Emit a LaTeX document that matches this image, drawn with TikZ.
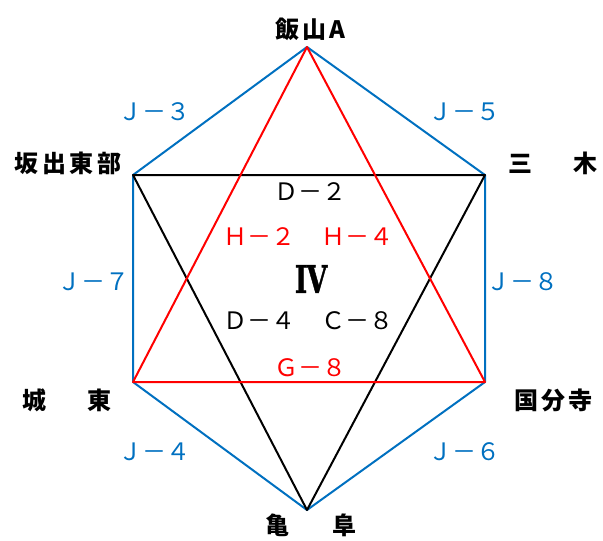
\documentclass[tikz,border=0pt]{standalone}
\usepackage{fontspec}
\usepackage{graphicx}
\newfontfamily\jpfont{Noto Sans CJK JP}
\newfontfamily\numfont{DejaVu Serif}[FakeBold=1.5]
\usetikzlibrary{positioning}

\definecolor{hexblue}{HTML}{0070C0}
\definecolor{trired}{HTML}{FF0000}

\begin{document}
\begin{tikzpicture}[
    x=1pt, y=-1pt,
    station/.style={
      font=\jpfont\bfseries\fontsize{24}{24}\selectfont,
      inner sep=0pt
    },
    code/.style={
      font=\jpfont\fontsize{24}{24}\selectfont,
      inner sep=0pt
    },
    jcode/.style={code, text=hexblue},
    hcode/.style={code, text=trired},
    hexline/.style={draw=hexblue, line width=2pt, line join=round},
    blackline/.style={draw=black, line width=2pt, line join=round},
    redline/.style={draw=trired, line width=2pt, line join=round}
  ]

    \useasboundingbox (0,0) rectangle (603,541);

    % Hexagon corners
    \coordinate (top) at (307,47);
    \coordinate (ul) at (133,175);
    \coordinate (ur) at (485,175);
    \coordinate (ll) at (133,382);
    \coordinate (lr) at (485,382);
    \coordinate (bot) at (307,510);

    % Outer hexagon
    \draw[hexline] (top) -- (ur) -- (lr) -- (bot) -- (ll) -- (ul) -- cycle;

    % Black triangle and top edge
    \draw[blackline] (ul) -- (ur) -- (bot) -- cycle;

    % Red triangle and bottom edge
    \draw[redline] (top) -- (lr) -- (ll) -- cycle;

    % Station names
    \node[station] (iiyama) at (310,29) {飯\kern3pt 山\kern3pt A};
    \node[station] (sakaide) at (68,163) {坂\kern3.5pt 出\kern3.5pt 東\kern3.5pt 部};
    \node[station] (miki) at (553,163) {三\kern41pt 木};
    \node[station] (joto) at (67,400) {城\kern41pt 東};
    \node[station] (kokubunji) at (553,400) {国\kern3pt 分\kern3pt 寺};
    \node[station] (kiho) at (311,525) {亀\kern44pt 阜};

    % Blue edge codes
    \node[jcode] (j3) at (154,112) {Ｊ－３};
    \node[jcode] (j5) at (464,112) {Ｊ－５};
    \node[jcode] (j7) at (93,282) {Ｊ－７};
    \node[jcode] (j8) at (522,282) {Ｊ－８};
    \node[jcode] (j4) at (154,452) {Ｊ－４};
    \node[jcode] (j6) at (464,452) {Ｊ－６};

    % Inner codes
    \node[code] (d2) at (310,192) {Ｄ－２};
    \node[hcode] (h2) at (259,237) {Ｈ－２};
    \node[hcode] (h4) at (357,237) {Ｈ－４};
    \node[inner sep=0pt, font=\numfont\bfseries\fontsize{38}{38}\selectfont] (zone) at (311,279)
      {\scalebox{0.7}[1]{I\kern-1pt V}};
    \node[code] (d4) at (259,321) {Ｄ－４};
    \node[code] (c8) at (357,321) {Ｃ－８};
    \node[hcode] (g8) at (310,368) {Ｇ－８};

\end{tikzpicture}
\end{document}
